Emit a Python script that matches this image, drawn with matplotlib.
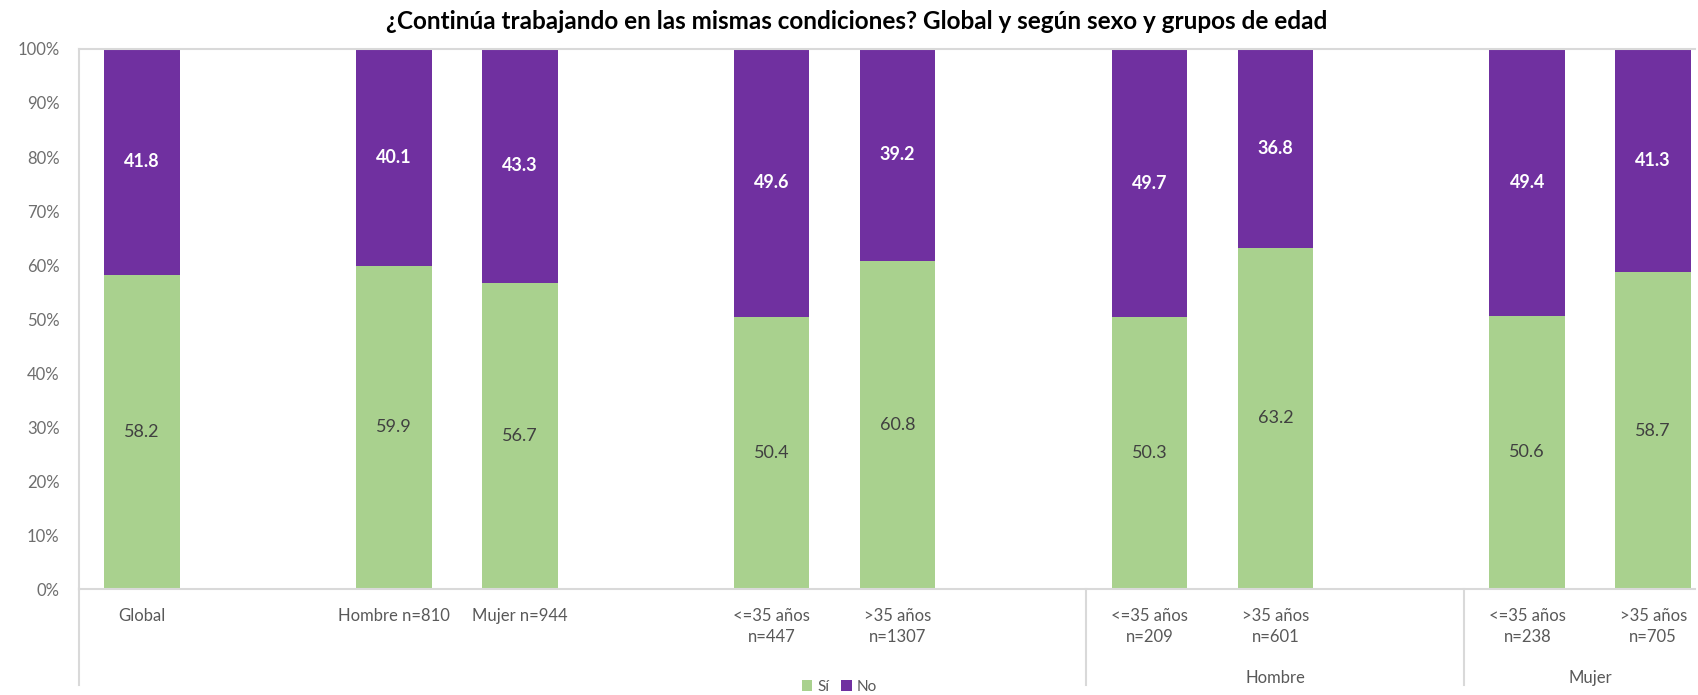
import numpy as np
import matplotlib
matplotlib.use('Agg')
import matplotlib.pyplot as plt
import matplotlib.transforms as mtransforms

plt.rcParams['font.family'] = ['Lato', 'DejaVu Sans']

# categories as laid out on the axis ('' = empty spacer category)
categories = ['Global', '', 'Hombre n=810', 'Mujer n=944', '',
              '<=35 años\nn=447', '>35 años\nn=1307', '',
              '<=35 años\nn=209', '>35 años\nn=601', '',
              '<=35 años\nn=238', '>35 años\nn=705']
si_values = [58.2, None, 59.9, 56.7, None, 50.4, 60.8, None,
             50.3, 63.2, None, 50.6, 58.7]
no_values = [41.8, None, 40.1, 43.3, None, 49.6, 39.2, None,
             49.7, 36.8, None, 49.4, 41.3]
group_labels = ['Hombre', 'Mujer']
group_spans = [(7.5, 10.5), (10.5, 12.5)]

title = '¿Continúa trabajando en las mismas condiciones? Global y según sexo y grupos de edad'
green = '#A9D18E'
purple = '#7030A0'
grey = '#595959'

fig = plt.figure(figsize=(16.99, 6.95), dpi=100)
ax = fig.add_axes([0.0465, 0.1525, 0.951, 0.777])

x = np.arange(len(categories))
si = np.array([np.nan if v is None else v for v in si_values])
no = np.array([np.nan if v is None else v for v in no_values])

ax.bar(x, si, width=0.6, color=green, label='Sí')
ax.bar(x, no, width=0.6, bottom=si, color=purple, label='No')

for i in range(len(categories)):
    if np.isnan(si[i]):
        continue
    ax.text(x[i], si[i] / 2, '%.1f' % si[i], ha='center', va='center',
            fontsize=13, color='#404040')
    ax.text(x[i], si[i] + no[i] / 2, '%.1f' % no[i], ha='center',
            va='center', fontsize=13, color='white', fontweight='bold')

ax.set_xlim(-0.5, 12.33)
ax.set_ylim(0, 100)
ax.set_yticks(np.arange(0, 101, 10))
ax.set_yticklabels(['%d%%' % v for v in range(0, 101, 10)])
ax.set_xticks(x)
ax.set_xticklabels(categories, linespacing=1.35)
ax.tick_params(axis='x', length=0, pad=14, labelsize=12, colors=grey)
ax.tick_params(axis='y', length=0, pad=14, labelsize=12, colors='#6E6E6E')

for side in ['top', 'left', 'bottom']:
    ax.spines[side].set_color('#D9D9D9')
    ax.spines[side].set_linewidth(1.5)
ax.spines['right'].set_visible(False)

# multi-level category axis: dividers and group labels
trans = mtransforms.blended_transform_factory(ax.transData, ax.transAxes)
for pos in [-0.5, 7.5, 10.5]:
    ax.plot([pos, pos], [0, -0.178], transform=trans, color='#D9D9D9',
            lw=1.5, clip_on=False)
for label, (a, b) in zip(group_labels, group_spans):
    ax.text((a + b) / 2, -0.165, label, transform=trans, ha='center',
            va='center', fontsize=12, color=grey)

fig.text(0.504, 0.969, title, ha='center', va='center', fontsize=17.5,
         fontweight='bold')

fig.legend(loc='lower center', bbox_to_anchor=(0.494, -0.018), ncol=2,
           frameon=False, fontsize=11, handlelength=0.7, handleheight=0.7,
           handletextpad=0.3, columnspacing=0.8, labelcolor=grey)

fig.savefig('out.png', dpi=100)
